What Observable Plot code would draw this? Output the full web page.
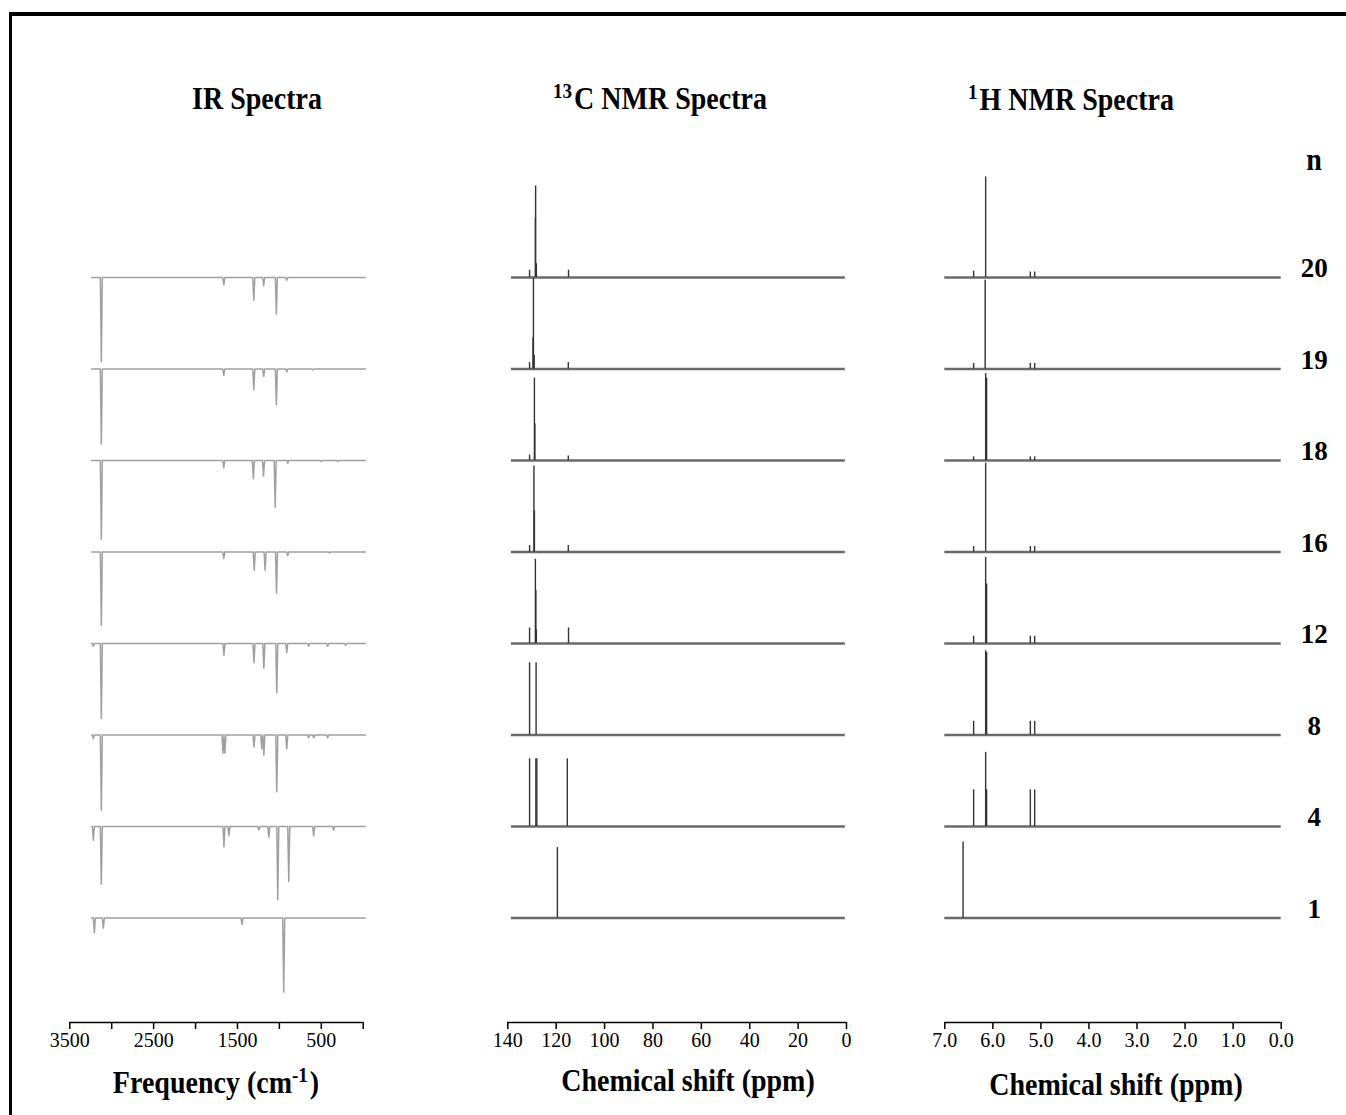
<!DOCTYPE html>
<html><head><meta charset="utf-8">
<script src="https://cdn.jsdelivr.net/npm/d3@7"></script>
<script src="https://cdn.jsdelivr.net/npm/@observablehq/plot@0.6"></script>
<style>
body{margin:0;background:#fff;}
#page{position:relative;width:1346px;height:1115px;overflow:hidden;font-family:"Liberation Serif","Times New Roman",serif;background:#fff;}
#frame{position:absolute;left:9px;top:12px;width:1500px;height:1300px;border-top:4px solid #000;border-left:3px solid #000;}
.t{position:absolute;font-weight:bold;font-size:28px;line-height:1;white-space:nowrap;transform:translate(-50%,-50%) scaleY(1.15);color:#000;}
.t sup{font-size:0.68em;vertical-align:0.55em;line-height:0;margin-right:2px;}
.plot{position:absolute;top:150px;}
</style></head><body>
<div id="page">
<div id="frame"></div>
<div class="t" style="left:257px;top:99px">IR Spectra</div>
<div class="t" style="left:660px;top:99px"><sup>13</sup>C NMR Spectra</div>
<div class="t" style="left:1071px;top:100px"><sup>1</sup>H NMR Spectra</div>
<div class="t" style="left:1314px;top:160px">n</div>
<div class="t" style="left:216px;top:1083px">Frequency (cm<sup>-1</sup>)</div>
<div class="t" style="left:688px;top:1081px">Chemical shift (ppm)</div>
<div class="t" style="left:1116px;top:1085px">Chemical shift (ppm)</div>
<div id="ir" class="plot" style="left:0px"></div>
<div id="c13" class="plot" style="left:480px"></div>
<div id="h1" class="plot" style="left:920px"></div>
</div>
<script>
// ---------------- data ----------------
const nValues = [20, 19, 18, 16, 12, 8, 4, 1];

// IR dips per n (same order as nValues): [wavenumber cm-1, relative depth]
const irDips = [
  [[3124,0.92],[1663,0.08],[1305,0.25],[1187,0.09],[1036,0.40],[912,0.03]],
  [[3124,0.82],[1663,0.07],[1305,0.23],[1187,0.08],[1036,0.39],[912,0.03],[600,0.01]],
  [[3124,0.86],[1663,0.08],[1310,0.20],[1189,0.17],[1050,0.51],[900,0.03],[500,0.01],[300,0.01]],
  [[3124,0.80],[1663,0.07],[1300,0.20],[1170,0.20],[1034,0.45],[900,0.04],[400,0.01]],
  [[3219,0.03],[3124,0.82],[1661,0.13],[1303,0.21],[1185,0.27],[1031,0.54],[912,0.10],[650,0.03],[424,0.03],[210,0.02]],
  [[3219,0.04],[3124,0.82],[1673,0.20],[1650,0.20],[1303,0.13],[1210,0.15],[1185,0.22],[1031,0.62],[912,0.15],[650,0.03],[590,0.03],[424,0.03]],
  [[3219,0.15],[3124,0.63],[1661,0.22],[1602,0.10],[1245,0.04],[1126,0.12],[1019,0.80],[888,0.60],[591,0.10],[353,0.04]],
  [[3207,0.16],[3100,0.11],[1446,0.07],[948,0.81]]
];
const irRange = [3240, -25];

// 13C NMR peaks per n: [ppm, relative intensity]
const cPeaks = [
  [[131.0,0.08],[128.6,0.65],[128.5,1.00],[128.2,0.15],[114.9,0.08]],
  [[131.0,0.07],[129.6,0.34],[129.4,0.99],[129.1,0.15],[115.0,0.07]],
  [[131.0,0.06],[129.0,0.90],[128.8,0.40],[115.0,0.05]],
  [[131.0,0.07],[129.2,0.94],[129.0,0.45],[115.0,0.07]],
  [[131.0,0.17],[128.6,0.92],[128.4,0.58],[128.2,0.15],[114.9,0.17]],
  [[131.0,0.79],[128.3,0.79]],
  [[131.0,0.74],[128.4,0.74],[128.0,0.74],[115.4,0.74]],
  [[119.5,0.77]]
];
const cRange = [138.5, 0.5];

// 1H NMR peaks per n: [ppm, relative intensity]
const hPeaks = [
  [[6.40,0.07],[6.15,1.10],[5.22,0.06],[5.13,0.06]],
  [[6.40,0.06],[6.16,0.97],[5.22,0.06],[5.13,0.06]],
  [[6.40,0.04],[6.15,0.95],[6.13,0.90],[5.22,0.04],[5.13,0.04]],
  [[6.40,0.06],[6.15,0.97],[5.22,0.06],[5.13,0.06]],
  [[6.40,0.08],[6.15,0.94],[6.13,0.65],[5.22,0.08],[5.13,0.08]],
  [[6.40,0.15],[6.15,0.92],[6.13,0.90],[5.22,0.15],[5.13,0.15]],
  [[6.40,0.40],[6.15,0.81],[6.13,0.40],[5.22,0.40],[5.13,0.40]],
  [[6.62,0.83]]
];
const hRange = [7.0, 0.0];

// axis ticks
const irTicks = [3500, 3000, 2500, 2000, 1500, 1000, 500, 0];
const irTickLabels = [3500, 2500, 1500, 500];
const cTicks = [140, 120, 100, 80, 60, 40, 20, 0];
const hTicks = [7, 6, 5, 4, 3, 2, 1, 0];

// ---------------- layout ----------------
const yDomain = [-8.142, 1.388]; // each spectrum stacked one unit apart
const H = 912, MB = 40;
const font = "Liberation Serif, Times New Roman, serif";

function panel({el, xDomain, width, marginLeft, marginRight, ticks, tickFormat, marks}) {
  const chart = Plot.plot({
    width, height: H, marginTop: 0, marginBottom: MB, marginLeft, marginRight,
    x: {domain: xDomain, axis: null},
    y: {domain: yDomain, axis: null},
    style: {fontFamily: font, fontSize: "20px", color: "#000", background: "transparent", overflow: "visible"},
    marks: [
      ...marks,
      Plot.ruleY([yDomain[0]], {stroke: "#000", strokeWidth: 1.6}),
      Plot.axisX({ticks, tickFormat, label: null, tickSize: 7, tickPadding: 3, fontSize: 20, stroke: "#000", strokeWidth: 1.5, fill: "#000"})
    ]
  });
  document.getElementById(el).append(chart);
}

const rows = nValues.map((n, i) => ({n, row: i}));

// IR: build each trace from its dips
const W = 12;
const irLine = irDips.flatMap((dips, i) => {
  const pts = [{row: i, v: irRange[0], d: 0}];
  [...dips].sort((a, b) => b[0] - a[0]).forEach(([v, d]) => {
    pts.push({row: i, v: v + W, d: 0}, {row: i, v, d}, {row: i, v: v - W, d: 0});
  });
  pts.push({row: i, v: irRange[1], d: 0});
  return pts;
});

panel({
  el: "ir", xDomain: [3500, 0], width: 383, marginLeft: 69.3, marginRight: 20.3,
  ticks: irTicks, tickFormat: d => irTickLabels.includes(d) ? String(d) : "",
  marks: [
    Plot.line(irLine, {x: "v", y: d => -d.row - d.d, z: "row", stroke: "#a0a0a0", strokeWidth: 1.5})
  ]
});

function sticks(peaks) {
  return peaks.flatMap((p, i) => p.map(([x, h]) => ({row: i, x, h})));
}

panel({
  el: "c13", xDomain: [140, 0], width: 386, marginLeft: 27.3, marginRight: 20,
  ticks: cTicks, tickFormat: d => String(d),
  marks: [
    Plot.ruleY(rows, {y: d => -d.row, x1: cRange[0], x2: cRange[1], stroke: "#6a6a6a", strokeWidth: 2.4}),
    Plot.ruleX(sticks(cPeaks), {x: "x", y1: d => -d.row, y2: d => -d.row + d.h, stroke: "#333", strokeWidth: 1.4})
  ]
});

panel({
  el: "h1", xDomain: [7, 0], width: 426, marginLeft: 24.3, marginRight: 65.3,
  ticks: hTicks, tickFormat: d => d.toFixed(1),
  marks: [
    Plot.ruleY(rows, {y: d => -d.row, x1: hRange[0], x2: hRange[1], stroke: "#6a6a6a", strokeWidth: 2.4}),
    Plot.ruleX(sticks(hPeaks), {x: "x", y1: d => -d.row, y2: d => -d.row + d.h, stroke: "#333", strokeWidth: 1.4}),
    Plot.text(rows, {y: d => -d.row, text: d => String(d.n), frameAnchor: "right", dx: 33, dy: -9,
      fontSize: 27, fontWeight: "bold", textAnchor: "middle", fill: "#000"})
  ]
});
</script>
</body></html>
